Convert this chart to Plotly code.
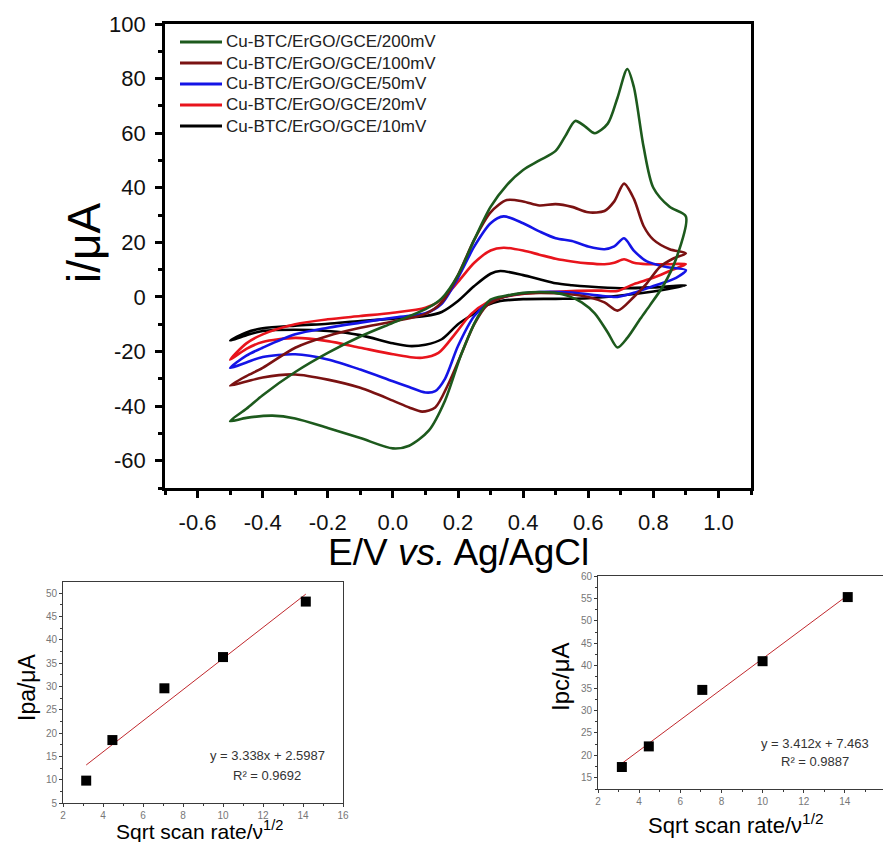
import plotly.graph_objects as go

# page body adds an 8 px margin, so the figure is 8 px smaller and all
# reference pixel positions are shifted by that offset
OFF = 8
W, H = 891 - OFF, 842 - OFF

# ---------------- data: cyclic voltammograms ----------------
# 200 mV/s
e200_fwd = [-0.5, -0.45, -0.4, -0.3, -0.2, -0.1, 0.0, 0.1, 0.15, 0.2, 0.25, 0.3, 0.35, 0.4, 0.45, 0.5, 0.53, 0.56, 0.59, 0.62, 0.66, 0.69, 0.72, 0.74, 0.77, 0.8, 0.85, 0.9]
i200_fwd = [-45.5, -41, -36, -27.5, -20.5, -14.5, -9.5, -4.5, -0.5, 8, 21, 33, 41, 46.5, 50, 53.5, 59, 64.5, 62.5, 60, 63.5, 73, 83.5, 77, 55, 40, 33, 29.5]
e200_rev = [0.9, 0.87, 0.83, 0.79, 0.76, 0.72, 0.69, 0.66, 0.62, 0.58, 0.54, 0.5, 0.45, 0.4, 0.35, 0.3, 0.26, 0.21, 0.16, 0.11, 0.05, 0.0, -0.1, -0.2, -0.3, -0.37, -0.45, -0.5]
i200_rev = [29.5, 14, 4, -3, -8, -15, -18.5, -13, -6, -2, 0.3, 1.5, 1.8, 1.5, 0.5, -1, -7.5, -21, -38, -49, -54.5, -55.5, -51.7, -48, -44.5, -43.5, -44.3, -45.5]

# 100 mV/s
e100_fwd = [-0.5, -0.45, -0.4, -0.3, -0.2, -0.1, 0.0, 0.1, 0.15, 0.2, 0.25, 0.3, 0.35, 0.4, 0.45, 0.5, 0.55, 0.6, 0.65, 0.68, 0.71, 0.74, 0.77, 0.8, 0.85, 0.9]
i100_fwd = [-32.5, -29, -26, -18.6, -14.3, -11.3, -9, -6.2, -2, 8, 21, 31, 35.5, 35, 33.5, 34, 33, 31, 31.5, 35, 41.5, 36, 26, 21, 17.5, 16]
e100_rev = [0.9, 0.86, 0.82, 0.78, 0.74, 0.69, 0.65, 0.6, 0.54, 0.45, 0.38, 0.33, 0.29, 0.25, 0.21, 0.17, 0.13, 0.09, 0.05, 0.0, -0.1, -0.2, -0.3, -0.4, -0.45, -0.5]
i100_rev = [16, 14, 11, 5, 0, -5, -2, 0, 1, 1.5, 1, -0.5, -3, -10, -21, -32, -40.5, -42, -40.5, -38, -33.3, -30.3, -28.4, -29.5, -31, -32.5]

# 50 mV/s
e50_fwd = [-0.5, -0.45, -0.4, -0.3, -0.2, -0.1, 0.0, 0.1, 0.15, 0.2, 0.25, 0.3, 0.34, 0.4, 0.45, 0.5, 0.55, 0.6, 0.65, 0.68, 0.71, 0.74, 0.78, 0.84, 0.9]
i50_fwd = [-26, -21.5, -18.6, -13.7, -11.3, -9.4, -7.6, -6, -2.5, 7, 18.5, 27, 29.5, 27, 24, 21.5, 20.5, 18.5, 17.5, 18.5, 21.5, 17, 13, 11, 9.8]
e50_rev = [0.9, 0.87, 0.8, 0.74, 0.69, 0.64, 0.55, 0.45, 0.38, 0.33, 0.29, 0.25, 0.2, 0.16, 0.13, 0.1, 0.05, 0.0, -0.1, -0.2, -0.3, -0.4, -0.45, -0.5]
i50_rev = [9.8, 7, 4, 1.5, 0, 0.4, 1.6, 1.8, 1, -0.3, -2.5, -7, -18, -30, -34.5, -35, -33, -30.9, -26.6, -22.9, -21, -22, -24, -26]

# 20 mV/s
e20_fwd = [-0.5, -0.45, -0.4, -0.3, -0.2, -0.1, 0.0, 0.1, 0.15, 0.2, 0.25, 0.3, 0.34, 0.4, 0.45, 0.5, 0.55, 0.6, 0.65, 0.68, 0.71, 0.74, 0.78, 0.84, 0.9]
i20_fwd = [-23, -17, -13.7, -10, -8.2, -7, -5.8, -4, -1, 5.5, 12.5, 17, 18, 17, 15.5, 14, 13, 12.3, 12, 12.5, 13.8, 12.5, 12, 12, 12]
e20_rev = [0.9, 0.85, 0.8, 0.74, 0.69, 0.64, 0.55, 0.45, 0.38, 0.33, 0.29, 0.24, 0.19, 0.14, 0.09, 0.05, 0.0, -0.1, -0.2, -0.3, -0.4, -0.45, -0.5]
i20_rev = [12, 9.5, 7, 4.7, 2.2, 2.3, 2.2, 1.6, 0.8, -0.3, -2, -6.3, -13.7, -20.5, -22.3, -22, -21, -18.6, -16.2, -15, -16.5, -19, -23]

# 10 mV/s
e10_fwd = [-0.5, -0.45, -0.4, -0.3, -0.2, -0.1, 0.0, 0.1, 0.15, 0.2, 0.25, 0.3, 0.33, 0.4, 0.45, 0.5, 0.55, 0.6, 0.7, 0.8, 0.9]
i10_fwd = [-16, -13, -11.5, -10.5, -9.8, -8.8, -8, -7, -5.5, -1.5, 4, 8.5, 9.5, 8, 6.5, 5, 4.3, 3.8, 3.2, 3.5, 4.2]
e10_rev = [0.9, 0.85, 0.8, 0.7, 0.6, 0.5, 0.4, 0.33, 0.29, 0.25, 0.2, 0.15, 0.1, 0.05, 0.0, -0.1, -0.2, -0.3, -0.4, -0.45, -0.5]
i10_rev = [4.2, 3, 2, 0.5, -0.5, -0.7, -0.8, -1.5, -3, -6, -10, -15.5, -17.5, -18, -17, -14, -12.5, -12, -12.5, -14, -16]

legend_names = ["Cu-BTC/ErGO/GCE/200mV", "Cu-BTC/ErGO/GCE/100mV", "Cu-BTC/ErGO/GCE/50mV",
                "Cu-BTC/ErGO/GCE/20mV", "Cu-BTC/ErGO/GCE/10mV"]
colors = ["#1d5a1d", "#7a1212", "#1414e6", "#e8141c", "#000000"]

# ---------------- data: peak current vs sqrt(scan rate) ----------------
sqrt_scan = [3.16, 4.47, 7.07, 10.0, 14.14]
ipa = [9.8, 18.5, 29.6, 36.3, 48.2]
ipc = [17.4, 22.0, 34.6, 41.0, 55.3]
fit_x = [3.16, 14.14]
fit_ipa = [13.15, 49.8]
fit_ipc = [18.2, 55.7]
eq_ipa = ["y = 3.338x + 2.5987", "R² = 0.9692"]
eq_ipc = ["y = 3.412x + 7.463", "R² = 0.9887"]

x_major = [-0.6, -0.4, -0.2, 0.0, 0.2, 0.4, 0.6, 0.8, 1.0]
x_major_txt = ["-0.6", "-0.4", "-0.2", "0.0", "0.2", "0.4", "0.6", "0.8", "1.0"]
x_minor = [-0.7, -0.5, -0.3, -0.1, 0.1, 0.3, 0.5, 0.7, 0.9, 1.1]
y_major = [-60, -40, -20, 0, 20, 40, 60, 80, 100]
y_major_txt = ["-60", "-40", "-20", "0", "20", "40", "60", "80", "100"]
y_minor = [-70, -50, -30, -10, 10, 30, 50, 70, 90]

FONT = "Arial, Liberation Sans, sans-serif"

def px(x):
    return (x - OFF) / W

def py(y):
    return 1 - (y - OFF) / H

fig = go.Figure()

cv = [
    (e200_fwd + e200_rev[1:], i200_fwd + i200_rev[1:]),
    (e100_fwd + e100_rev[1:], i100_fwd + i100_rev[1:]),
    (e50_fwd + e50_rev[1:], i50_fwd + i50_rev[1:]),
    (e20_fwd + e20_rev[1:], i20_fwd + i20_rev[1:]),
    (e10_fwd + e10_rev[1:], i10_fwd + i10_rev[1:]),
]
for k in reversed(range(5)):
    ex, iy = cv[k]
    fig.add_trace(go.Scatter(
        x=ex, y=iy, mode="lines", name=legend_names[k],
        line=dict(color=colors[k], width=2.6, shape="spline", smoothing=0.8),
        xaxis="x", yaxis="y", showlegend=False,
    ))

# insets
fig.add_trace(go.Scatter(x=fit_x, y=fit_ipa, mode="lines", line=dict(color="#c0282d", width=1),
                         xaxis="x2", yaxis="y2", showlegend=False))
fig.add_trace(go.Scatter(x=sqrt_scan, y=ipa, mode="markers",
                         marker=dict(symbol="square", size=10, color="black"),
                         xaxis="x2", yaxis="y2", showlegend=False))
fig.add_trace(go.Scatter(x=fit_x, y=fit_ipc, mode="lines", line=dict(color="#c0282d", width=1),
                         xaxis="x3", yaxis="y3", showlegend=False))
fig.add_trace(go.Scatter(x=sqrt_scan, y=ipc, mode="markers",
                         marker=dict(symbol="square", size=10, color="black"),
                         xaxis="x3", yaxis="y3", showlegend=False))

main_axis = dict(showgrid=False, zeroline=False, showline=True, linecolor="black", linewidth=2.6,
                 mirror=True, ticks="outside", tickcolor="black", tickwidth=2.6, ticklen=7,
                 automargin=False,
                 tickfont=dict(family=FONT, size=22, color="#111"))

inset_axis = dict(showgrid=False, zeroline=False, showline=True, linecolor="#3a3a3a", linewidth=1,
                  mirror=True, ticks="outside", tickcolor="#3a3a3a", tickwidth=1, ticklen=3,
                  automargin=False,
                  tickfont=dict(family=FONT, size=10, color="#777"))

fig.update_layout(
    width=W, height=H, autosize=False,
    margin=dict(l=0, r=0, t=0, b=0, autoexpand=False),
    paper_bgcolor="white", plot_bgcolor="white",
    font=dict(family=FONT, color="black"),
    showlegend=False,
    xaxis=dict(domain=[px(165), px(751)], range=[-0.7, 1.1], anchor="y",
               tickmode="array", tickvals=x_major, ticktext=x_major_txt,
               ticklabelstandoff=6,
               minor=dict(tickmode="array", tickvals=x_minor, ticks="outside", ticklen=4,
                          tickwidth=2.6, tickcolor="black"),
               **main_axis),
    yaxis=dict(domain=[py(488), py(24)], range=[-70, 100], anchor="x",
               tickmode="array", tickvals=y_major, ticktext=y_major_txt,
               ticklabelstandoff=5,
               minor=dict(tickmode="array", tickvals=y_minor, ticks="outside", ticklen=4,
                          tickwidth=2.6, tickcolor="black"),
               **main_axis),
    xaxis2=dict(domain=[px(63), px(343)], range=[2, 16], anchor="y2", dtick=2,
                minor=dict(dtick=1, ticks="outside", ticklen=2, tickcolor="#3a3a3a"),
                **inset_axis),
    yaxis2=dict(domain=[py(803), py(582)], range=[5, 52.4], anchor="x2", dtick=5,
                minor=dict(dtick=2.5, ticks="outside", ticklen=2, tickcolor="#3a3a3a"),
                **inset_axis),
    xaxis3=dict(domain=[px(598), px(886)], range=[2, 16], anchor="y3", dtick=2,
                minor=dict(dtick=1, ticks="outside", ticklen=2, tickcolor="#3a3a3a"),
                **inset_axis),
    yaxis3=dict(domain=[py(789), py(576)], range=[12.5, 60], anchor="x3", dtick=5,
                minor=dict(dtick=2.5, ticks="outside", ticklen=2, tickcolor="#3a3a3a"),
                **inset_axis),
)

ann = []
shapes = []
# legend (drawn as line samples + text so that size and spacing match)
leg_y = [42, 63, 84, 105, 126]
for k in range(5):
    shapes.append(dict(type="line", xref="paper", yref="paper",
                       x0=px(180), x1=px(222), y0=py(leg_y[k]), y1=py(leg_y[k]),
                       line=dict(color=colors[k], width=3)))
    ann.append(dict(text=legend_names[k], x=px(224), y=py(leg_y[k]), xref="paper", yref="paper",
                    showarrow=False, xanchor="left", yanchor="middle",
                    font=dict(family=FONT, size=17, color="#222")))

ann.append(dict(text="i/μA", x=px(84), y=py(243), xref="paper", yref="paper", showarrow=False,
                textangle=-90, font=dict(family=FONT, size=46, color="black"),
                xanchor="center", yanchor="middle"))
ann.append(dict(text="E/V <i>vs.</i> Ag/AgCl", x=px(458), y=py(552), xref="paper", yref="paper",
                showarrow=False, font=dict(family=FONT, size=37, color="black"),
                xanchor="center", yanchor="middle"))
ann.append(dict(text="Ipa/μA", x=px(27), y=py(687), xref="paper", yref="paper", showarrow=False,
                textangle=-90, font=dict(family=FONT, size=23, color="black"),
                xanchor="center", yanchor="middle"))
ann.append(dict(text="Ipc/μA", x=px(560), y=py(677), xref="paper", yref="paper", showarrow=False,
                textangle=-90, font=dict(family=FONT, size=24, color="black"),
                xanchor="center", yanchor="middle"))
ann.append(dict(text="Sqrt scan rate/ν<sup>1/2</sup>", x=px(199), y=py(830), xref="paper", yref="paper",
                showarrow=False, font=dict(family=FONT, size=21, color="black"),
                xanchor="center", yanchor="middle"))
ann.append(dict(text="Sqrt scan rate/ν<sup>1/2</sup>", x=px(735), y=py(824), xref="paper", yref="paper",
                showarrow=False, font=dict(family=FONT, size=22, color="black"),
                xanchor="center", yanchor="middle"))
for j, t in enumerate(eq_ipa):
    ann.append(dict(text=t, x=px(267), y=py(755 + 20 * j), xref="paper", yref="paper", showarrow=False,
                    font=dict(family=FONT, size=13, color="#333"), xanchor="center", yanchor="middle"))
for j, t in enumerate(eq_ipc):
    ann.append(dict(text=t, x=px(815), y=py(743 + 18 * j), xref="paper", yref="paper", showarrow=False,
                    font=dict(family=FONT, size=13, color="#333"), xanchor="center", yanchor="middle"))
fig.update_layout(annotations=ann, shapes=shapes)

fig.write_html("out.html")
